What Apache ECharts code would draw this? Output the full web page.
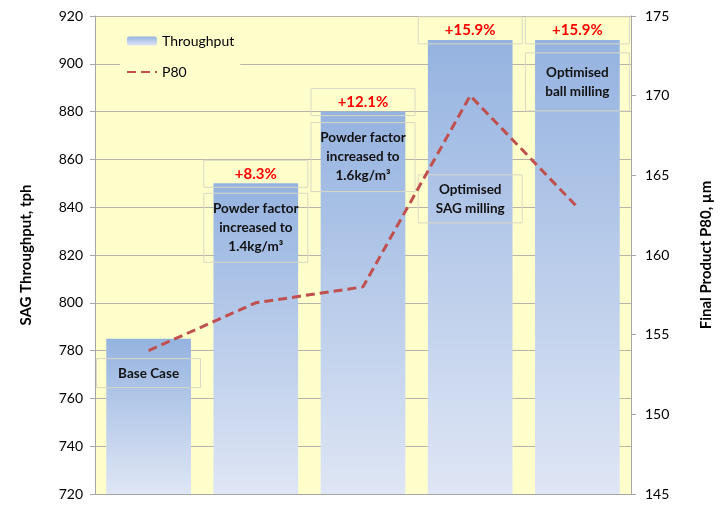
<!DOCTYPE html>
<html>
<head>
<meta charset="utf-8">
<script src="https://cdn.jsdelivr.net/npm/echarts@6/dist/echarts.min.js"></script>
<style>
  html, body { margin: 0; padding: 0; background: #fff; }
  #container { width: 726px; height: 525px; }
</style>
</head>
<body>
<div id="container"></div>
<script>
var stages = ['Base Case', 'Powder factor 1.4', 'Powder factor 1.6', 'Optimised SAG', 'Optimised ball'];
var throughput = [785, 850, 880, 910, 910];
var p80 = [154, 157, 158, 170, 163];
var gains = ['', '+8.3%', '+12.1%', '+15.9%', '+15.9%'];
var notes = [
	'Base Case',
	'Powder factor\nincreased to\n1.4kg/m³',
	'Powder factor\nincreased to\n1.6kg/m³',
	'Optimised\nSAG milling',
	'Optimised\nball milling'
];

var FONT = 'Lato, "Open Sans", sans-serif';
var dom = document.getElementById( 'container' );
var myChart = echarts.init( dom );

// where each note box sits inside its bar (offset from the bar top, box padding)
var noteOffsets = [15, 5, 6, 130, 8];
var notePads = [[5, 0], [6, 0], [6, 0], [5, 0], [10, 0]];

var noteData = throughput.map( function( v, i ) {
	return {
		value: v,
		label: {
			formatter: notes[i],
			offset: [0, noteOffsets[i]],
			padding: notePads[i]
		}
	};
} );

var gainData = throughput.map( function( v, i ) {
	return {
		value: v,
		label: { show: gains[i] !== '', formatter: gains[i] }
	};
} );

var option = {
	animation: false,
	textStyle: { fontFamily: FONT },
	grid: {
		left: 95,
		right: 95,
		top: 16,
		bottom: 31,
		show: true,
		backgroundColor: '#FFFFCC',
		borderWidth: 0
	},
	legend: {
		orient: 'vertical',
		left: 120,
		top: 30,
		itemWidth: 30,
		itemHeight: 9,
		itemGap: 17,
		backgroundColor: '#FFFFCC',
		padding: [4, 6],
		data: ['Throughput', { name: 'P80', itemStyle: { opacity: 0 } }],
		textStyle: { fontFamily: FONT, fontSize: 14, color: '#000' }
	},
	xAxis: {
		type: 'category',
		data: stages,
		axisLabel: { show: false },
		axisTick: { show: false },
		axisLine: { lineStyle: { color: '#A6A6A6' } }
	},
	yAxis: [
		{
			type: 'value',
			min: 720,
			max: 920,
			interval: 20,
			name: 'SAG Throughput, tph',
			nameLocation: 'middle',
			nameRotate: 90,
			nameGap: 61,
			nameTextStyle: { fontFamily: FONT, fontSize: 15, fontWeight: 'bold', color: '#000' },
			axisLine: { show: true, lineStyle: { color: '#A6A6A6' } },
			axisTick: { show: true, length: 5, lineStyle: { color: '#A6A6A6' } },
			axisLabel: { fontFamily: FONT, fontSize: 14, color: '#000', margin: 12 },
			splitLine: { lineStyle: { color: '#B4B4A8' } }
		},
		{
			type: 'value',
			min: 145,
			max: 175,
			interval: 5,
			name: 'Final Product P80, µm',
			nameLocation: 'middle',
			nameRotate: 90,
			nameGap: 68,
			nameTextStyle: { fontFamily: FONT, fontSize: 15, fontWeight: 'bold', color: '#000' },
			axisLine: { show: true, lineStyle: { color: '#A6A6A6' } },
			axisTick: { show: true, length: 5, lineStyle: { color: '#A6A6A6' } },
			axisLabel: { fontFamily: FONT, fontSize: 14, color: '#000', margin: 14 },
			splitLine: { show: false }
		}
	],
	series: [
		{
			name: 'Throughput',
			type: 'bar',
			data: gainData,
			barCategoryGap: '21%',
			itemStyle: {
				color: new echarts.graphic.LinearGradient( 0, 0, 0, 1, [
					{ offset: 0, color: '#95B3E0' },
					{ offset: 1, color: '#DFE6F5' }
				] )
			},
			label: {
				show: true,
				position: 'top',
				distance: -4,
				width: 104,
				align: 'center',
				padding: [6, 0],
				borderColor: '#D8D8C4',
				borderWidth: 1,
				color: '#FF0000',
				fontFamily: FONT,
				fontWeight: 'bold',
				fontSize: 15
			}
		},
		{
			name: 'notes',
			type: 'bar',
			data: noteData,
			barGap: '-100%',
			barCategoryGap: '21%',
			silent: true,
			itemStyle: { color: 'rgba(0,0,0,0)' },
			label: {
				show: true,
				position: 'insideTop',
				width: 104,
				align: 'center',
				lineHeight: 19,
				borderColor: '#D8D8C4',
				borderWidth: 1,
				color: '#111',
				fontFamily: FONT,
				fontWeight: 'bold',
				fontSize: 13.5
			}
		},
		{
			name: 'P80',
			type: 'line',
			yAxisIndex: 1,
			data: p80,
			symbol: 'none',
			z: 5,
			lineStyle: { color: '#C0504D', width: 3, type: [9, 5] },
			itemStyle: { color: '#C0504D' }
		}
	]
};

if ( option && typeof option === 'object' ) {
	myChart.setOption( option, true );
}
</script>
</body>
</html>
